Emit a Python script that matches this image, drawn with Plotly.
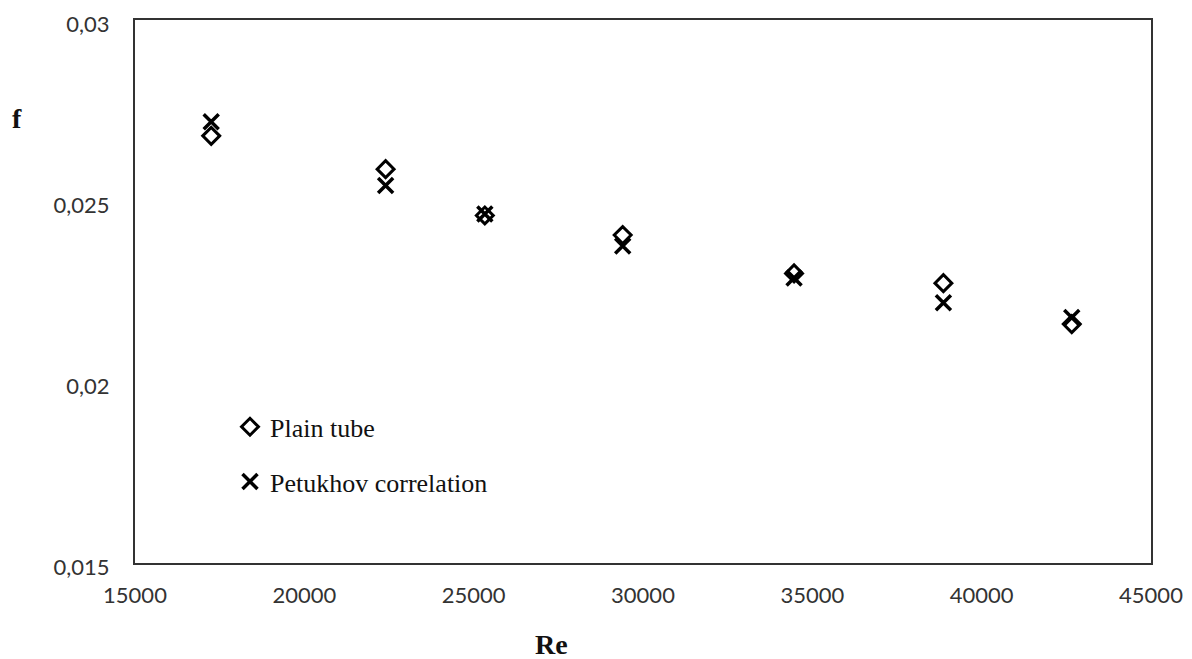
import plotly.graph_objects as go

re_vals = [17250, 22400, 25330, 29400, 34460, 38870, 42660]
f_plain = [0.02680, 0.02588, 0.02460, 0.02406, 0.02300, 0.02273, 0.02160]
f_petukhov = [0.02719, 0.02543, 0.02464, 0.02376, 0.02287, 0.02219, 0.02178]

x_ticks = [15000, 20000, 25000, 30000, 35000, 40000, 45000]
y_ticks = [0.015, 0.02, 0.025, 0.03]
y_tick_text = ["0,015", "0,02", "0,025", "0,03"]

fig = go.Figure()
fig.add_trace(go.Scatter(
    x=re_vals, y=f_plain, mode="markers", name="Plain tube",
    legendgroup="a",
    marker=dict(symbol="diamond-open", size=13, color="black", line=dict(width=3, color="black")),
))
fig.add_trace(go.Scatter(
    x=re_vals, y=f_petukhov, mode="markers", name="Petukhov correlation",
    legendgroup="b",
    marker=dict(symbol="x-thin-open", size=15, color="black", line=dict(width=3.5, color="black")),
))

fig.update_layout(
    width=1192, height=659,
    margin=dict(l=127, r=49, t=12, b=104),
    paper_bgcolor="white", plot_bgcolor="white",
    font=dict(family="Lato, Liberation Sans, sans-serif", size=22, color="#333"),
    showlegend=True,
    legend=dict(
        x=0.0935, y=0.294, xanchor="left", yanchor="top",
        font=dict(family="Liberation Serif, serif", size=26, color="#111"),
        bgcolor="rgba(0,0,0,0)", tracegroupgap=18, traceorder="grouped",
        itemwidth=30,
    ),
    xaxis=dict(
        range=[15000, 45000], tickvals=x_ticks, tickformat="d",
        showgrid=False, zeroline=False, showline=True, linecolor="#333", linewidth=2,
        mirror=True, ticks="", ticklabelstandoff=12, ticklabeloverflow="allow",
        automargin=False,
    ),
    yaxis=dict(
        range=[0.015, 0.03], tickvals=y_ticks, ticktext=y_tick_text,
        showgrid=False, zeroline=False, showline=True, linecolor="#333", linewidth=2,
        mirror=True, ticks="", ticklabelstandoff=19, ticklabeloverflow="allow",
        ticklabelshift=4, automargin=False,
    ),
    annotations=[
        dict(text="<b>f</b>", xref="paper", yref="paper", x=-0.116, y=0.8195,
             xanchor="center", yanchor="middle",
             showarrow=False, font=dict(family="Liberation Serif, serif", size=28, color="#111")),
        dict(text="<b>Re</b>", xref="paper", yref="paper", x=0.4104, y=-0.151,
             xanchor="center", yanchor="middle",
             showarrow=False, font=dict(family="Liberation Serif, serif", size=28, color="#111")),
    ],
)

fig.write_html("out.html")
